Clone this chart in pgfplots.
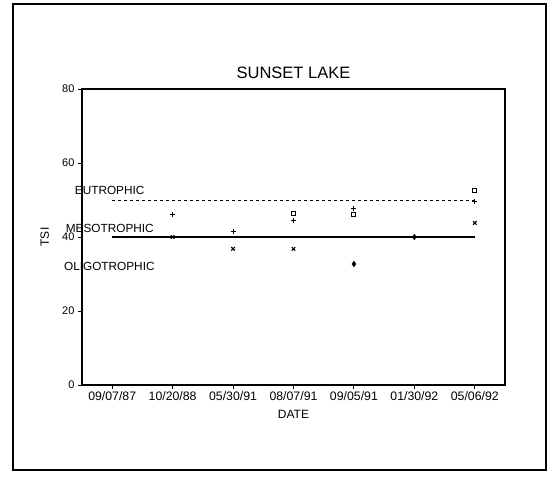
\documentclass[border=0pt]{standalone}
\usepackage{pgfplots}
\pgfplotsset{compat=1.18}
\usepackage{fontspec}
\setmainfont{Liberation Sans}
\begin{document}
\begin{tikzpicture}[x=1pt,y=1pt]
\path[use as bounding box] (0,0) rectangle (553,479);
\draw[line width=2.5pt] (13,9) rectangle (546,475);
\begin{axis}[
  at={(82pt,94pt)}, anchor=south west,
  scale only axis, width=423pt, height=296pt,
  xmin=-0.5, xmax=6.5, ymin=0, ymax=80,
  ytick={0,20,40,60,80},
  xtick={0,1,2,3,4,5,6},
  xticklabels={09/07/87,10/20/88,05/30/91,08/07/91,09/05/91,01/30/92,05/06/92},
  xtick pos=lower, ytick pos=left,
  tick align=outside, major tick length=4pt,
  axis line style={line width=1.1pt},
  every tick/.style={line width=0.9pt,black},
  /pgf/number format/assume math mode=true,
  x tick label style={font=\fontsize{12.3}{13}\selectfont, yshift=1pt},
  y tick label style={font=\fontsize{11}{12}\selectfont},
  xlabel={DATE}, ylabel={TSI},
  xlabel style={font=\fontsize{12}{13}\selectfont, at={(axis description cs:0.5,-0.1)}, anchor=center},
  ylabel style={font=\fontsize{12}{13}\selectfont, at={(axis description cs:-0.088,0.5)}, anchor=center},
  title={SUNSET LAKE},
  title style={font=\fontsize{16.5}{18}\selectfont, yshift=1pt},
  clip=false,
]
\addplot[black, dashed, line width=0.9pt] coordinates {(0,50) (6,50)};
\addplot[black, line width=1.1pt] coordinates {(0,40) (6,40)};
% series +
\addplot[only marks, mark=+, mark size=2.5pt, black, line width=1.1pt] coordinates {(1,46.2) (2,41.5) (3,44.5) (4,47.8) (6,49.5)};
% series square
\addplot[only marks, mark=square, mark size=2pt, black, line width=0.9pt] coordinates {(3,46.5) (4,46) (6,52.5)};
% series x
\addplot[only marks, mark=x, mark size=2.5pt, black, line width=1.1pt] coordinates {(1,40) (2,36.8) (3,36.8) (6,43.8)};
% series diamond
\addplot[only marks, mark=diamond*, mark size=2.8pt, black] coordinates {(4,32.7) (5,40)};
\node[anchor=west, font=\fontsize{11.8}{12}\selectfont, inner sep=0pt] at (axis cs:-0.62,52.7) {EUTROPHIC};
\node[anchor=west, font=\fontsize{11.8}{12}\selectfont, inner sep=0pt] at (axis cs:-0.77,42.4) {MESOTROPHIC};
\node[anchor=west, font=\fontsize{11.8}{12}\selectfont, inner sep=0pt] at (axis cs:-0.8,32) {OLIGOTROPHIC};
\end{axis}
\end{tikzpicture}
\end{document}
